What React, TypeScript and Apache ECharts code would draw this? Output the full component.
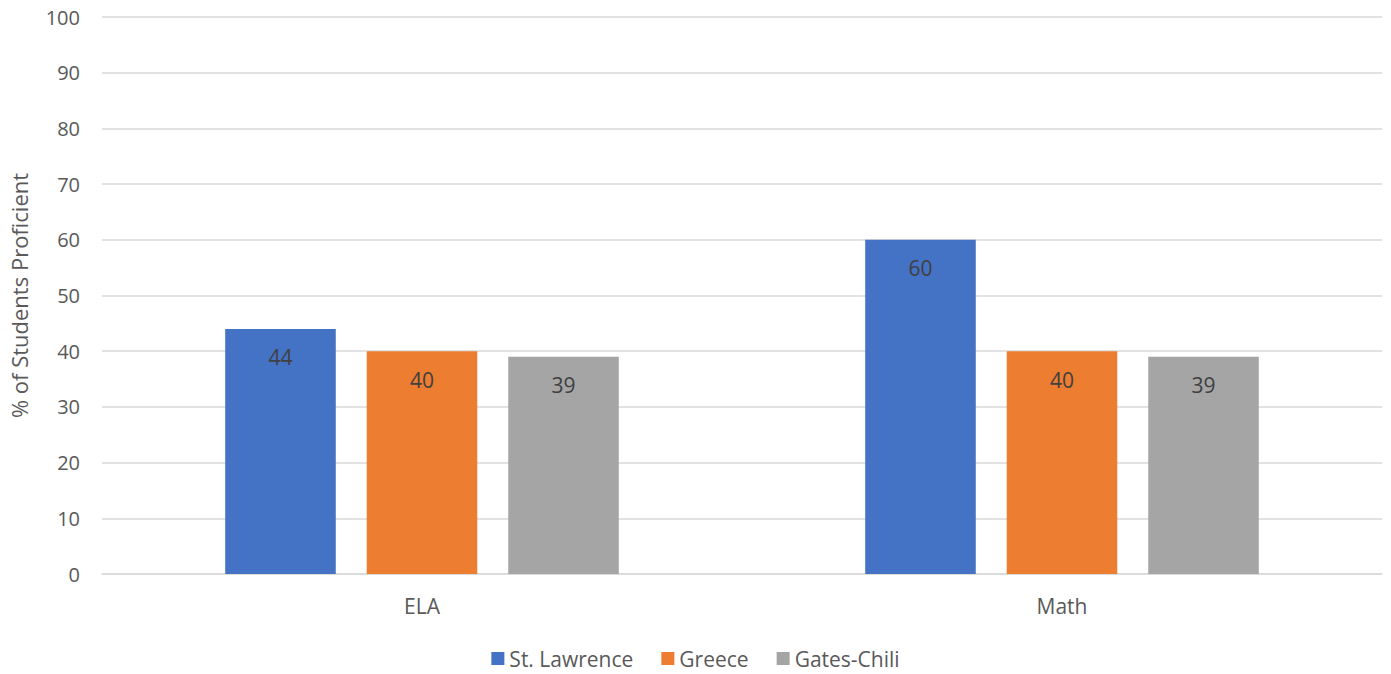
import React, { useEffect, useRef } from "react";
import * as echarts from "echarts";

const categories = ["ELA", "Math"];
const stLawrence = [44, 60];
const greece = [40, 40];
const gatesChili = [39, 39];
const seriesNames = ["St. Lawrence", "Greece", "Gates-Chili"];
const colors = ["#4472C4", "#ED7D31", "#A5A5A5"];
const yTitle = "% of Students Proficient";

const FONT = "Open Sans";

export default function App() {
  const ref = useRef<HTMLDivElement>(null);
  useEffect(() => {
    if (!ref.current) return;
    const chart = echarts.init(ref.current, null, { renderer: "svg" });
    const values = [stLawrence, greece, gatesChili];
    chart.setOption({
      animation: false,
      backgroundColor: "#ffffff",
      textStyle: { fontFamily: FONT },
      grid: { left: 102, right: 9, top: 17, bottom: 100 },
      legend: {
        bottom: 0,
        left: "center",
        itemWidth: 13,
        itemHeight: 13,
        itemGap: 28,
        icon: "rect",
        textStyle: { color: "#595959", fontSize: 21, fontFamily: FONT },
        data: seriesNames,
      },
      xAxis: {
        type: "category",
        data: categories,
        axisLine: { lineStyle: { color: "#D9D9D9", width: 1.5 } },
        axisTick: { show: false },
        axisLabel: { color: "#595959", fontSize: 21, margin: 21, fontFamily: FONT },
      },
      yAxis: {
        type: "value",
        min: 0,
        max: 100,
        interval: 10,
        name: yTitle,
        nameLocation: "middle",
        nameGap: 72,
        nameTextStyle: { color: "#595959", fontSize: 22, fontFamily: FONT },
        axisLine: { show: false },
        axisTick: { show: false },
        axisLabel: { color: "#595959", fontSize: 20, margin: 22, fontFamily: FONT },
        splitLine: { lineStyle: { color: "#D9D9D9", width: 1.5 } },
      },
      series: seriesNames.map((name, i) => ({
        name,
        type: "bar",
        data: values[i],
        itemStyle: { color: colors[i] },
        barGap: "28%",
        barCategoryGap: "38.5%",
        label: {
          show: true,
          position: "insideTop",
          distance: 18,
          color: "#404040",
          fontSize: 21,
          fontFamily: FONT,
        },
      })),
    });
    return () => chart.dispose();
  }, []);
  return (
    <div
      ref={ref}
      style={{ position: "fixed", left: 0, top: 0, width: 1391, height: 674 }}
    />
  );
}
